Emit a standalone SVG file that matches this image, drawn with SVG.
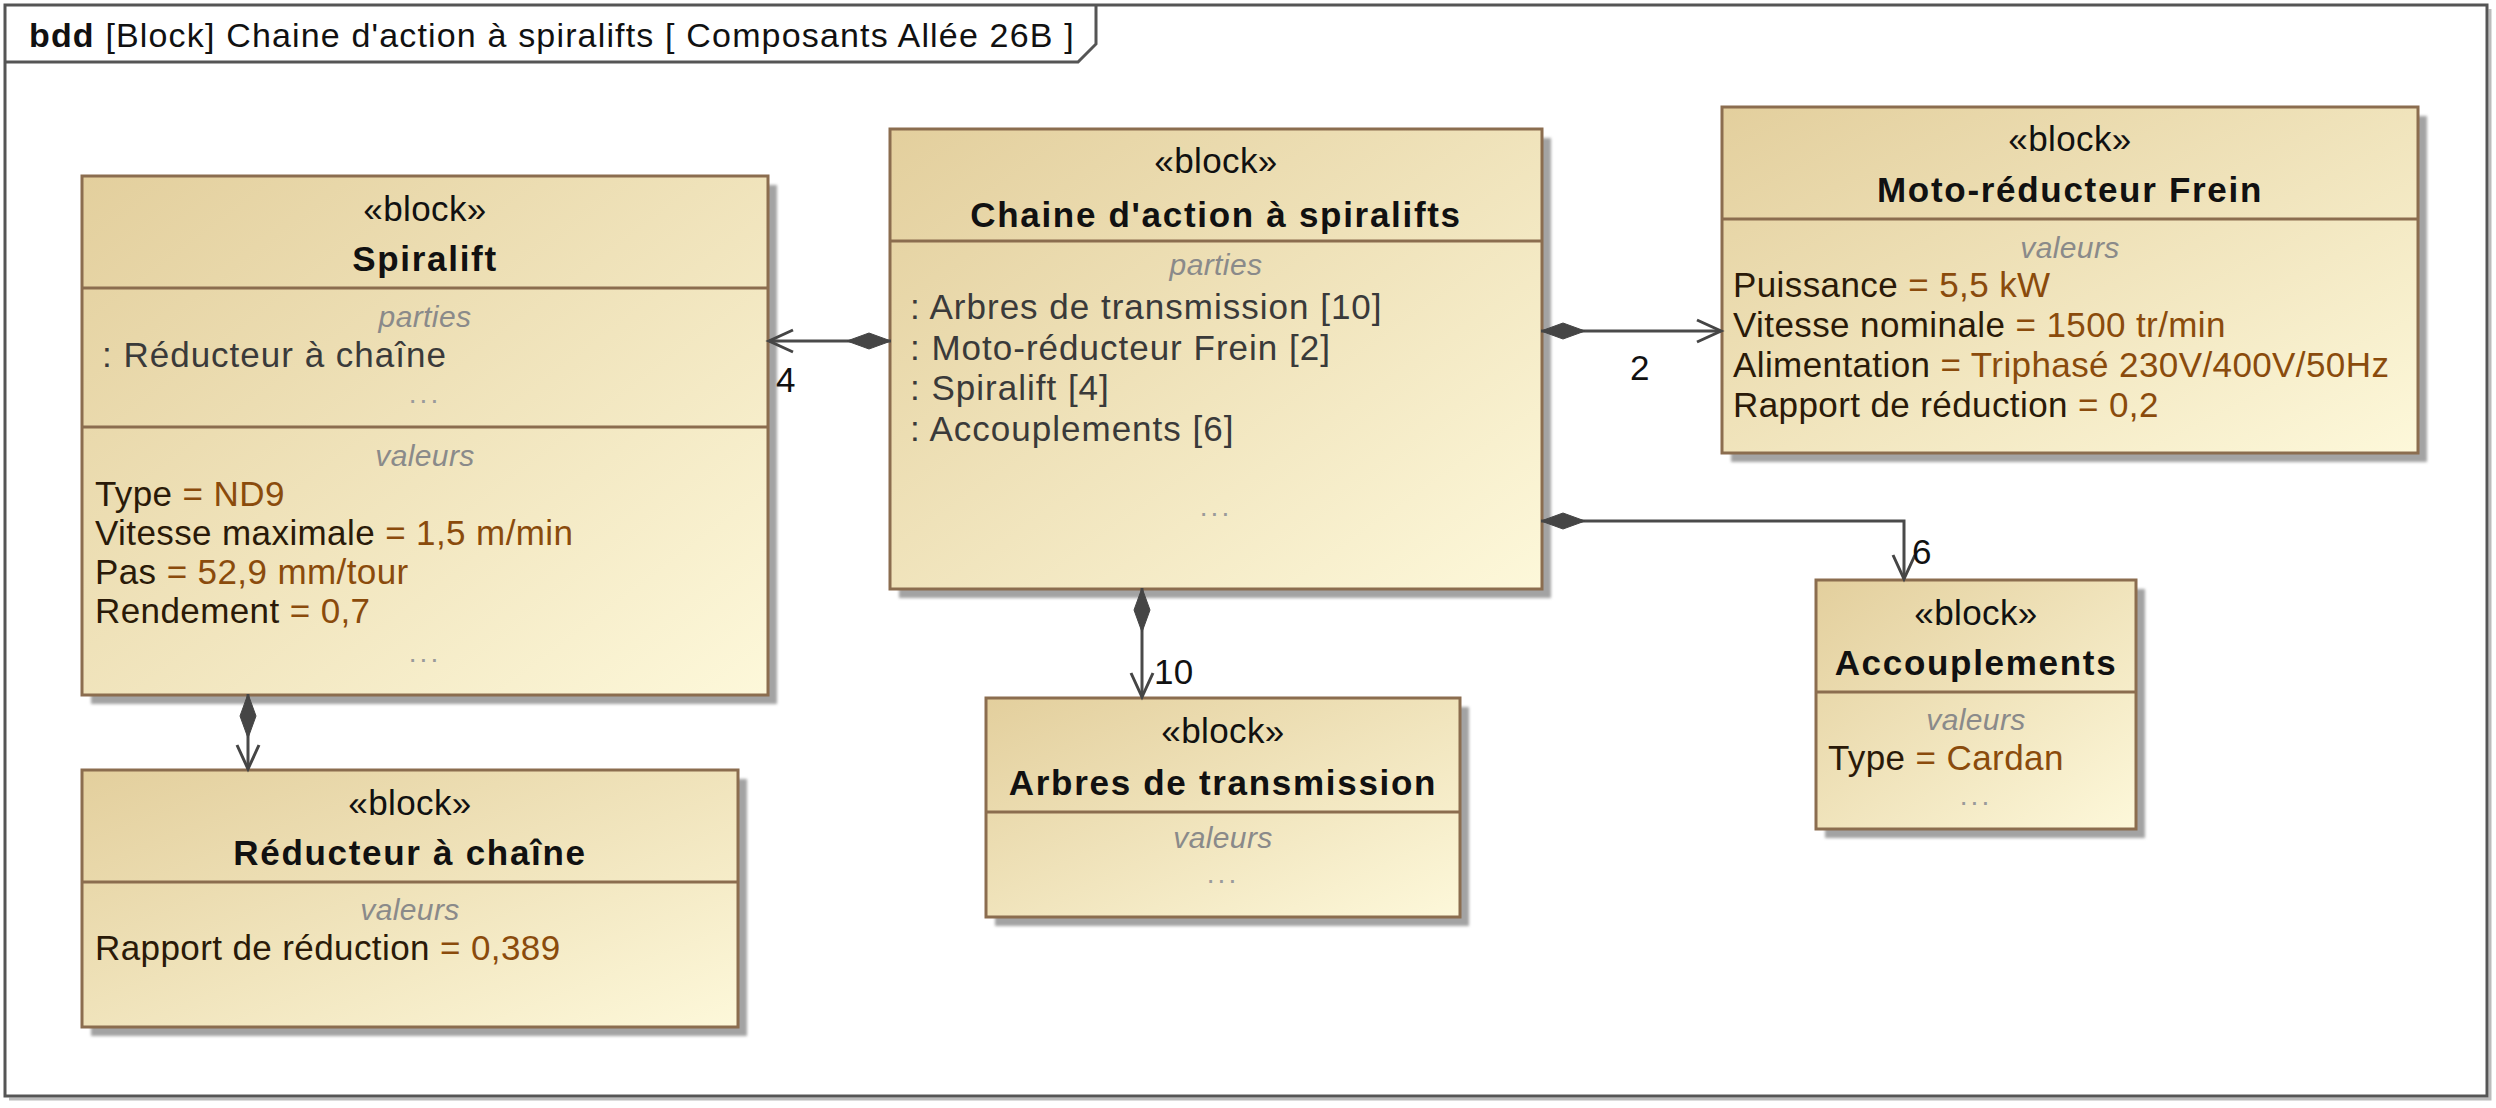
<svg xmlns="http://www.w3.org/2000/svg" width="2496" height="1108" viewBox="0 0 2496 1108">
<defs>
<linearGradient id="fillG" x1="0" y1="0" x2="1" y2="1">
<stop offset="0" stop-color="#e3cf9d"/>
<stop offset="1" stop-color="#fdf8da"/>
</linearGradient>
<filter id="blur" x="-5%" y="-5%" width="110%" height="110%"><feGaussianBlur stdDeviation="1.5"/></filter>
<marker id="diamond" markerUnits="userSpaceOnUse" orient="auto" refX="0" refY="0" markerWidth="50" markerHeight="20" overflow="visible">
<path d="M0,0 L22,-8 L44,0 L22,8 Z" fill="#454545" stroke="#454545" stroke-width="1"/>
</marker>
<marker id="arrow" markerUnits="userSpaceOnUse" orient="auto" refX="0" refY="0" markerWidth="30" markerHeight="30" overflow="visible">
<path d="M-24,-11 L0,0 L-24,11" fill="none" stroke="#454545" stroke-width="3"/>
</marker>
</defs>
<style>
text{font-family:"Liberation Sans",Arial,Helvetica,sans-serif;font-size:35px;letter-spacing:0.4px}
.st{fill:#111;text-anchor:middle}
.nm{fill:#111;text-anchor:middle;font-weight:bold;letter-spacing:1.7px}
.cp{fill:#8a8a8a;text-anchor:middle;font-style:italic;font-size:30px}
.dots{fill:#9a9a9a;text-anchor:middle;font-size:28px;letter-spacing:3px}
.pn{fill:#2a1a08}
.pv{fill:#8a4b0c}
.pt{fill:#3a3a3a;letter-spacing:1px}
.mult{fill:#111}
.box{fill:url(#fillG);stroke:#8b6d4f;stroke-width:3}
.sh{fill:#a3a3a3;filter:url(#blur)}
.div{stroke:#8b6d4f;stroke-width:3}
.conn{fill:none;stroke:#4a4a4a;stroke-width:3}
</style>
<rect x="0" y="0" width="2496" height="1108" fill="#ffffff"/>
<g id="frame">
<polyline points="2490,9 2490,1099 9,1099" fill="none" stroke="#bbbbbb" stroke-width="3"/>
<rect x="5" y="5" width="2482" height="1091" fill="none" stroke="#555555" stroke-width="3"/>
<path d="M5,62 H1078 L1096,44 V5" fill="none" stroke="#555555" stroke-width="3"/>
<text x="29" y="47" textLength="1045" style="font-size:34px;fill:#111"><tspan font-weight="bold">bdd</tspan> [Block] Chaine d'action à spiralifts [ Composants Allée 26B ]</text>
</g>
<g id="spiralift">
<rect class="sh" x="91" y="185" width="686" height="519"/>
<rect class="box" x="82" y="176" width="686" height="519"/>
<line class="div" x1="82" y1="288" x2="768" y2="288"/>
<line class="div" x1="82" y1="427" x2="768" y2="427"/>
<text class="st" x="425" y="221">«block»</text>
<text class="nm" x="425" y="271">Spiralift</text>
<text class="cp" x="425" y="327">parties</text>
<text class="pt" x="102" y="367">: Réducteur à chaîne</text>
<text class="dots" x="425" y="403">...</text>
<text class="cp" x="425" y="466">valeurs</text>
<text class="pn" x="95" y="506">Type <tspan class="pv">= ND9</tspan></text>
<text class="pn" x="95" y="545">Vitesse maximale <tspan class="pv">= 1,5 m/min</tspan></text>
<text class="pn" x="95" y="584">Pas <tspan class="pv">= 52,9 mm/tour</tspan></text>
<text class="pn" x="95" y="623">Rendement <tspan class="pv">= 0,7</tspan></text>
<text class="dots" x="425" y="662">...</text>
</g>
<g id="chaine">
<rect class="sh" x="899" y="138" width="652" height="460"/>
<rect class="box" x="890" y="129" width="652" height="460"/>
<line class="div" x1="890" y1="241" x2="1542" y2="241"/>
<text class="st" x="1216" y="173">«block»</text>
<text class="nm" x="1216" y="227">Chaine d'action à spiralifts</text>
<text class="cp" x="1216" y="275">parties</text>
<text class="pt" x="910" y="319">: Arbres de transmission [10]</text>
<text class="pt" x="910" y="360">: Moto-réducteur Frein [2]</text>
<text class="pt" x="910" y="400">: Spiralift [4]</text>
<text class="pt" x="910" y="441">: Accouplements [6]</text>
<text class="dots" x="1216" y="516">...</text>
</g>
<g id="moto">
<rect class="sh" x="1731" y="116" width="696" height="346"/>
<rect class="box" x="1722" y="107" width="696" height="346"/>
<line class="div" x1="1722" y1="219" x2="2418" y2="219"/>
<text class="st" x="2070" y="151">«block»</text>
<text class="nm" x="2070" y="202">Moto-réducteur Frein</text>
<text class="cp" x="2070" y="258">valeurs</text>
<text class="pn" x="1733" y="297">Puissance <tspan class="pv">= 5,5 kW</tspan></text>
<text class="pn" x="1733" y="337">Vitesse nominale <tspan class="pv">= 1500 tr/min</tspan></text>
<text class="pn" x="1733" y="377">Alimentation <tspan class="pv">= Triphasé 230V/400V/50Hz</tspan></text>
<text class="pn" x="1733" y="417">Rapport de réduction <tspan class="pv">= 0,2</tspan></text>
</g>
<g id="reducteur">
<rect class="sh" x="91" y="779" width="656" height="257"/>
<rect class="box" x="82" y="770" width="656" height="257"/>
<line class="div" x1="82" y1="882" x2="738" y2="882"/>
<text class="st" x="410" y="815">«block»</text>
<text class="nm" x="410" y="865">Réducteur à chaîne</text>
<text class="cp" x="410" y="920">valeurs</text>
<text class="pn" x="95" y="960">Rapport de réduction <tspan class="pv">= 0,389</tspan></text>
</g>
<g id="arbres">
<rect class="sh" x="995" y="707" width="474" height="219"/>
<rect class="box" x="986" y="698" width="474" height="219"/>
<line class="div" x1="986" y1="812" x2="1460" y2="812"/>
<text class="st" x="1223" y="743">«block»</text>
<text class="nm" x="1223" y="795">Arbres de transmission</text>
<text class="cp" x="1223" y="848">valeurs</text>
<text class="dots" x="1223" y="883">...</text>
</g>
<g id="accouplements">
<rect class="sh" x="1825" y="589" width="320" height="249"/>
<rect class="box" x="1816" y="580" width="320" height="249"/>
<line class="div" x1="1816" y1="692" x2="2136" y2="692"/>
<text class="st" x="1976" y="625">«block»</text>
<text class="nm" x="1976" y="675">Accouplements</text>
<text class="cp" x="1976" y="730">valeurs</text>
<text class="pn" x="1828" y="770">Type <tspan class="pv">= Cardan</tspan></text>
<text class="dots" x="1976" y="805">...</text>
</g>
<g id="connectors">
<path class="conn" d="M891,341 H769" marker-start="url(#diamond)" marker-end="url(#arrow)"/>
<path class="conn" d="M1541,331 H1721" marker-start="url(#diamond)" marker-end="url(#arrow)"/>
<path class="conn" d="M1541,521 H1904 V579" marker-start="url(#diamond)" marker-end="url(#arrow)"/>
<path class="conn" d="M1142,588 V697" marker-start="url(#diamond)" marker-end="url(#arrow)"/>
<path class="conn" d="M248,694 V769" marker-start="url(#diamond)" marker-end="url(#arrow)"/>
<text class="mult" x="776" y="392">4</text>
<text class="mult" x="1630" y="380">2</text>
<text class="mult" x="1912" y="564">6</text>
<text class="mult" x="1154" y="684">10</text>
</g>
</svg>
